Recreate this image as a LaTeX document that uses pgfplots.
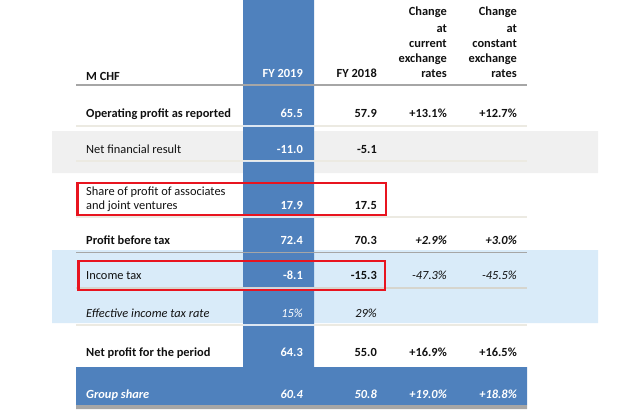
\documentclass[border=0pt]{standalone}
\usepackage{pgfplots}
\pgfplotsset{compat=1.18}
\usepackage{fontspec}
\setmainfont{Carlito}
\definecolor{tblue}{HTML}{4F81BD}
\definecolor{tgray}{HTML}{F0F0F0}
\definecolor{tlblue}{HTML}{D9EBF9}
\definecolor{tline}{HTML}{A6A6A6}
\definecolor{tbeige}{HTML}{ECEAE2}
\definecolor{tred}{HTML}{E8141F}
\definecolor{ttext}{HTML}{111111}
\newcommand{\fs}{\fontsize{12.4}{14}\selectfont}
\pgfplotsset{
  txt/.style={only marks, mark=*, mark size=0pt, mark options={draw=none,fill=none},
    point meta=explicit symbolic, nodes near coords,
    every node near coord/.append style={inner sep=0pt, font=\fs, #1}},
  R/.style={txt={anchor=base east,#1}},
  L/.style={txt={anchor=base west,#1}},
}
\begin{document}
\begin{tikzpicture}
\begin{axis}[width=640pt, height=410pt, scale only axis, xmin=0, xmax=640, ymin=0, ymax=410,
  y dir=reverse, hide axis, clip=false]
% backgrounds
\addplot[fill=tgray, draw=none] coordinates {(52,131)(598,131)(598,173)(52,173)(52,131)};
\addplot[fill=tlblue, draw=none] coordinates {(52,250)(598,250)(598,323)(52,323)(52,250)};
\addplot[fill=tblue, draw=none] coordinates {(243,0)(314,0)(314,367)(243,367)(243,0)};
\addplot[fill=tblue, draw=none] coordinates {(76,367)(527,367)(527,405)(76,405)(76,367)};
\addplot[fill=tline, draw=none] coordinates {(76,405)(527,405)(527,409)(76,409)(76,405)};
% rules
\addplot[draw=tline, line width=2.2pt] coordinates {(76,85)(527,85)};
\addplot[draw=tbeige, line width=1.2pt] coordinates {(76,126)(527,126)};
\addplot[draw=tbeige, line width=1.2pt] coordinates {(76,161)(527,161)};
\addplot[draw=tbeige, line width=1.2pt] coordinates {(76,217)(527,217)};
\addplot[draw=tline, line width=1.5pt] coordinates {(76,252.5)(527,252.5)};
\addplot[draw=tbeige!80!gray, line width=1.2pt] coordinates {(76,288)(527,288)};
\addplot[draw=tbeige, line width=1.2pt] coordinates {(76,325)(527,325)};
% white gaps in blue column
\addplot[draw=white!80!tblue, line width=1.2pt] coordinates {(243,126)(314,126)};
\addplot[draw=white!80!tblue, line width=1.2pt] coordinates {(243,161.5)(314,161.5)};
\addplot[draw=white!80!tblue, line width=1.2pt] coordinates {(243,217)(314,217)};
\addplot[draw=white!70!tblue, line width=1.2pt] coordinates {(243,288.5)(314,288.5)};
\addplot[draw=white!80!tblue, line width=1.5pt] coordinates {(243,325)(314,325)};
% red boxes
\addplot[draw=tred, line width=2.6pt] coordinates {(77.5,183)(386,183)(386,215)(77.5,215)} -- cycle;
\addplot[draw=tred, line width=2.6pt] coordinates {(78.5,261)(385,261)(385,290)(78.5,290)} -- cycle;
% labels
\addplot[L={font=\fs\bfseries, text=ttext}] coordinates {
  (86,80)[M CHF] (86,117)[Operating profit as reported] (86,244)[Profit before tax] (86,356)[Net profit for the period]};
\addplot[L={text=ttext}] coordinates {
  (86,153)[Net financial result] (86,195)[Share of profit of associates] (86,209)[and joint ventures] (86,279)[Income tax]};
\addplot[L={font=\fs\itshape, text=ttext}] coordinates {(86,317)[Effective income tax rate]};
\addplot[L={font=\fs\bfseries\itshape, text=white}] coordinates {(86,398)[Group share]};
% FY 2019 column
\addplot[R={font=\fs\bfseries, text=white}] coordinates {
  (303,77)[FY 2019] (303,117)[65.5] (303,153)[-11.0] (303,209)[17.9] (303,244)[72.4] (303,279)[-8.1] (303,356)[64.3]};
\addplot[R={font=\fs\itshape, text=white}] coordinates {(303,317)[15\%]};
% black bold
\addplot[R={font=\fs\bfseries, text=ttext}] coordinates {
  (377,77)[FY 2018] (377,117)[57.9] (377,153)[-5.1] (377,209)[17.5] (377,244)[70.3] (377,279)[-15.3] (377,356)[55.0]
  (447,15)[Change] (447,32)[at] (447,47)[current] (447,62)[exchange] (447,77)[rates]
  (517,15)[Change] (517,32)[at] (517,47)[constant] (517,62)[exchange] (517,77)[rates]
  (447,117)[+13.1\%] (517,117)[+12.7\%] (447,356)[+16.9\%] (517,356)[+16.5\%]};
\addplot[R={font=\fs\bfseries\itshape, text=ttext}] coordinates {
  (447,244)[+2.9\%] (517,244)[+3.0\%]};
\addplot[R={font=\fs\itshape, text=ttext}] coordinates {
  (447,279)[-47.3\%] (517,279)[-45.5\%] (377,317)[29\%]};
\addplot[R={font=\fs\bfseries\itshape, text=white}] coordinates {
  (303,398)[60.4] (377,398)[50.8] (447,398)[+19.0\%] (517,398)[+18.8\%]};
% bounding
\addplot[draw=none] coordinates {(0,0)(640,410)};
\end{axis}
\end{tikzpicture}
\end{document}
